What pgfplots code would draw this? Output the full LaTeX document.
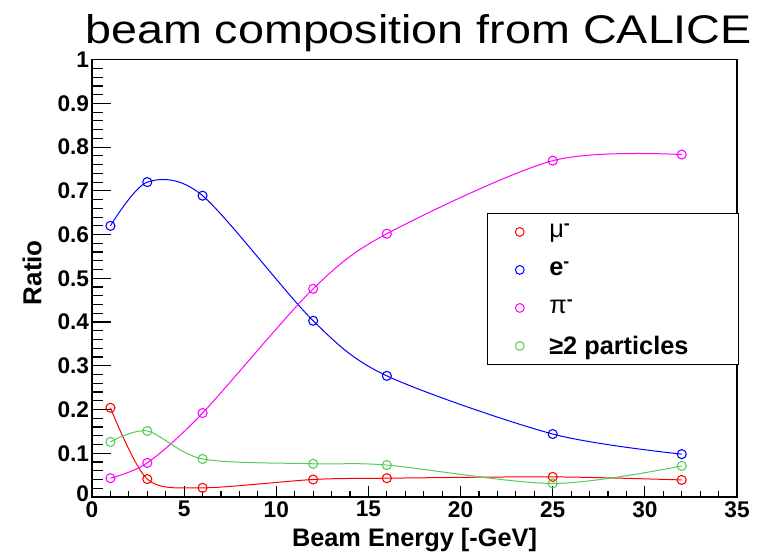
\documentclass[border=0pt]{standalone}
\usepackage{graphicx}
\usepackage{pgfplots}
\pgfplotsset{compat=1.18}
\usepackage{fontspec}
\setmainfont{Liberation Sans}
\definecolor{rootgreen}{RGB}{85,205,85}
\definecolor{rootblue}{RGB}{0,0,255}
\definecolor{rootred}{RGB}{255,0,0}
\definecolor{rootmag}{RGB}{255,0,255}
\begin{document}
\begin{tikzpicture}[x=1pt,y=1pt]
\useasboundingbox (0,0) rectangle (574.5,414.75);
\fill[white] (0,0) rectangle (574.5,414.75);
% frame and y ticks
\begin{axis}[
  at={(69pt,42pt)}, anchor=south west,
  scale only axis, width=483.75pt, height=328pt,
  xmin=0, xmax=35, ymin=0, ymax=1,
  xtick=\empty,
  ytick={0,0.1,0.2,0.3,0.4,0.5,0.6,0.7,0.8,0.9,1},
  yticklabels={\raisebox{5pt}{0},0.1,0.2,0.3,0.4,0.5,0.6,0.7,0.8,0.9,1},
  minor y tick num=4,
  ytick pos=left, tick align=inside,
  major tick length=14pt, minor tick length=8pt,
  every tick/.style={black, line width=0.9pt},
  axis line style={black, line width=1pt},
  yticklabel style={font=\bfseries\fontsize{17}{17}\selectfont, inner xsep=2pt},
  ylabel={Ratio},
  ylabel style={font=\bfseries\fontsize{19.5}{20}\selectfont, at={(axis description cs:-0.093,0.513)}, anchor=center},
]
\end{axis}
% x ticks, data, legend
\begin{axis}[
  at={(69pt,42pt)}, anchor=south west,
  scale only axis, width=483.75pt, height=328pt,
  xmin=0, xmax=35, ymin=0, ymax=1,
  ytick=\empty,
  xtick={0,5,...,35}, minor x tick num=4,
  xtick pos=bottom, tick align=inside,
  major tick length=8.5pt, minor tick length=4.5pt,
  every tick/.style={black, line width=0.9pt},
  axis line style={draw=none},
  /pgf/number format/assume math mode=true,
  xticklabel style={font=\bfseries\fontsize{17}{17}\selectfont, inner ysep=3pt},
  xlabel={Beam Energy [-GeV]},
  xlabel style={font=\bfseries\fontsize{19}{20}\selectfont, at={(axis description cs:0.5,-0.098)}, anchor=center},
  legend style={at={(0.612,0.650)}, anchor=north west, draw=black, line width=0.8pt, fill=white,
    font=\fontsize{19}{19}\selectfont, nodes={inner sep=0pt, minimum height=19pt},
    row sep=9.5pt, column sep=9.75pt, inner xsep=12pt, inner ysep=4.5pt},
  legend cell align=left,
  legend image code/.code={\path (-12pt,0pt) (12pt,0pt); \draw[#1, solid, line width=0.75pt] (0pt,0pt) circle[radius=3.3pt];},
  every axis plot/.append style={line width=0.75pt, mark size=3.4pt, mark options={solid, line width=0.8pt}},
]
\addplot[rootred, smooth, mark=o] coordinates {(1,0.204) (3,0.041) (6,0.021) (12,0.040) (16,0.043) (25,0.046) (32,0.039)};
\addlegendentry{\makebox[130pt][l]{μ\textsuperscript{\bfseries -}}}
\addplot[rootblue, smooth, mark=o] coordinates {(1,0.620) (3,0.720) (6,0.689) (12,0.403) (16,0.277) (25,0.144) (32,0.098)};
\addlegendentry{\makebox[130pt][l]{\bfseries e\textsuperscript{-}}}
\addplot[rootmag, smooth, mark=o] coordinates {(1,0.043) (3,0.078) (6,0.192) (12,0.476) (16,0.602) (25,0.769) (32,0.783)};
\addlegendentry{\makebox[130pt][l]{π\textsuperscript{\bfseries -}}}
\addplot[rootgreen, smooth, mark=o] coordinates {(1,0.126) (3,0.151) (6,0.087) (12,0.076) (16,0.073) (25,0.031) (32,0.071)};
\addlegendentry{\makebox[130pt][l]{\bfseries ≥2 particles}}
\end{axis}
\node[anchor=base, inner sep=0pt] at (313.9,381.75) {\resizebox{500pt}{21.75pt}{\fontsize{30}{30}\selectfont beam composition from CALICE}};
\end{tikzpicture}
\end{document}
